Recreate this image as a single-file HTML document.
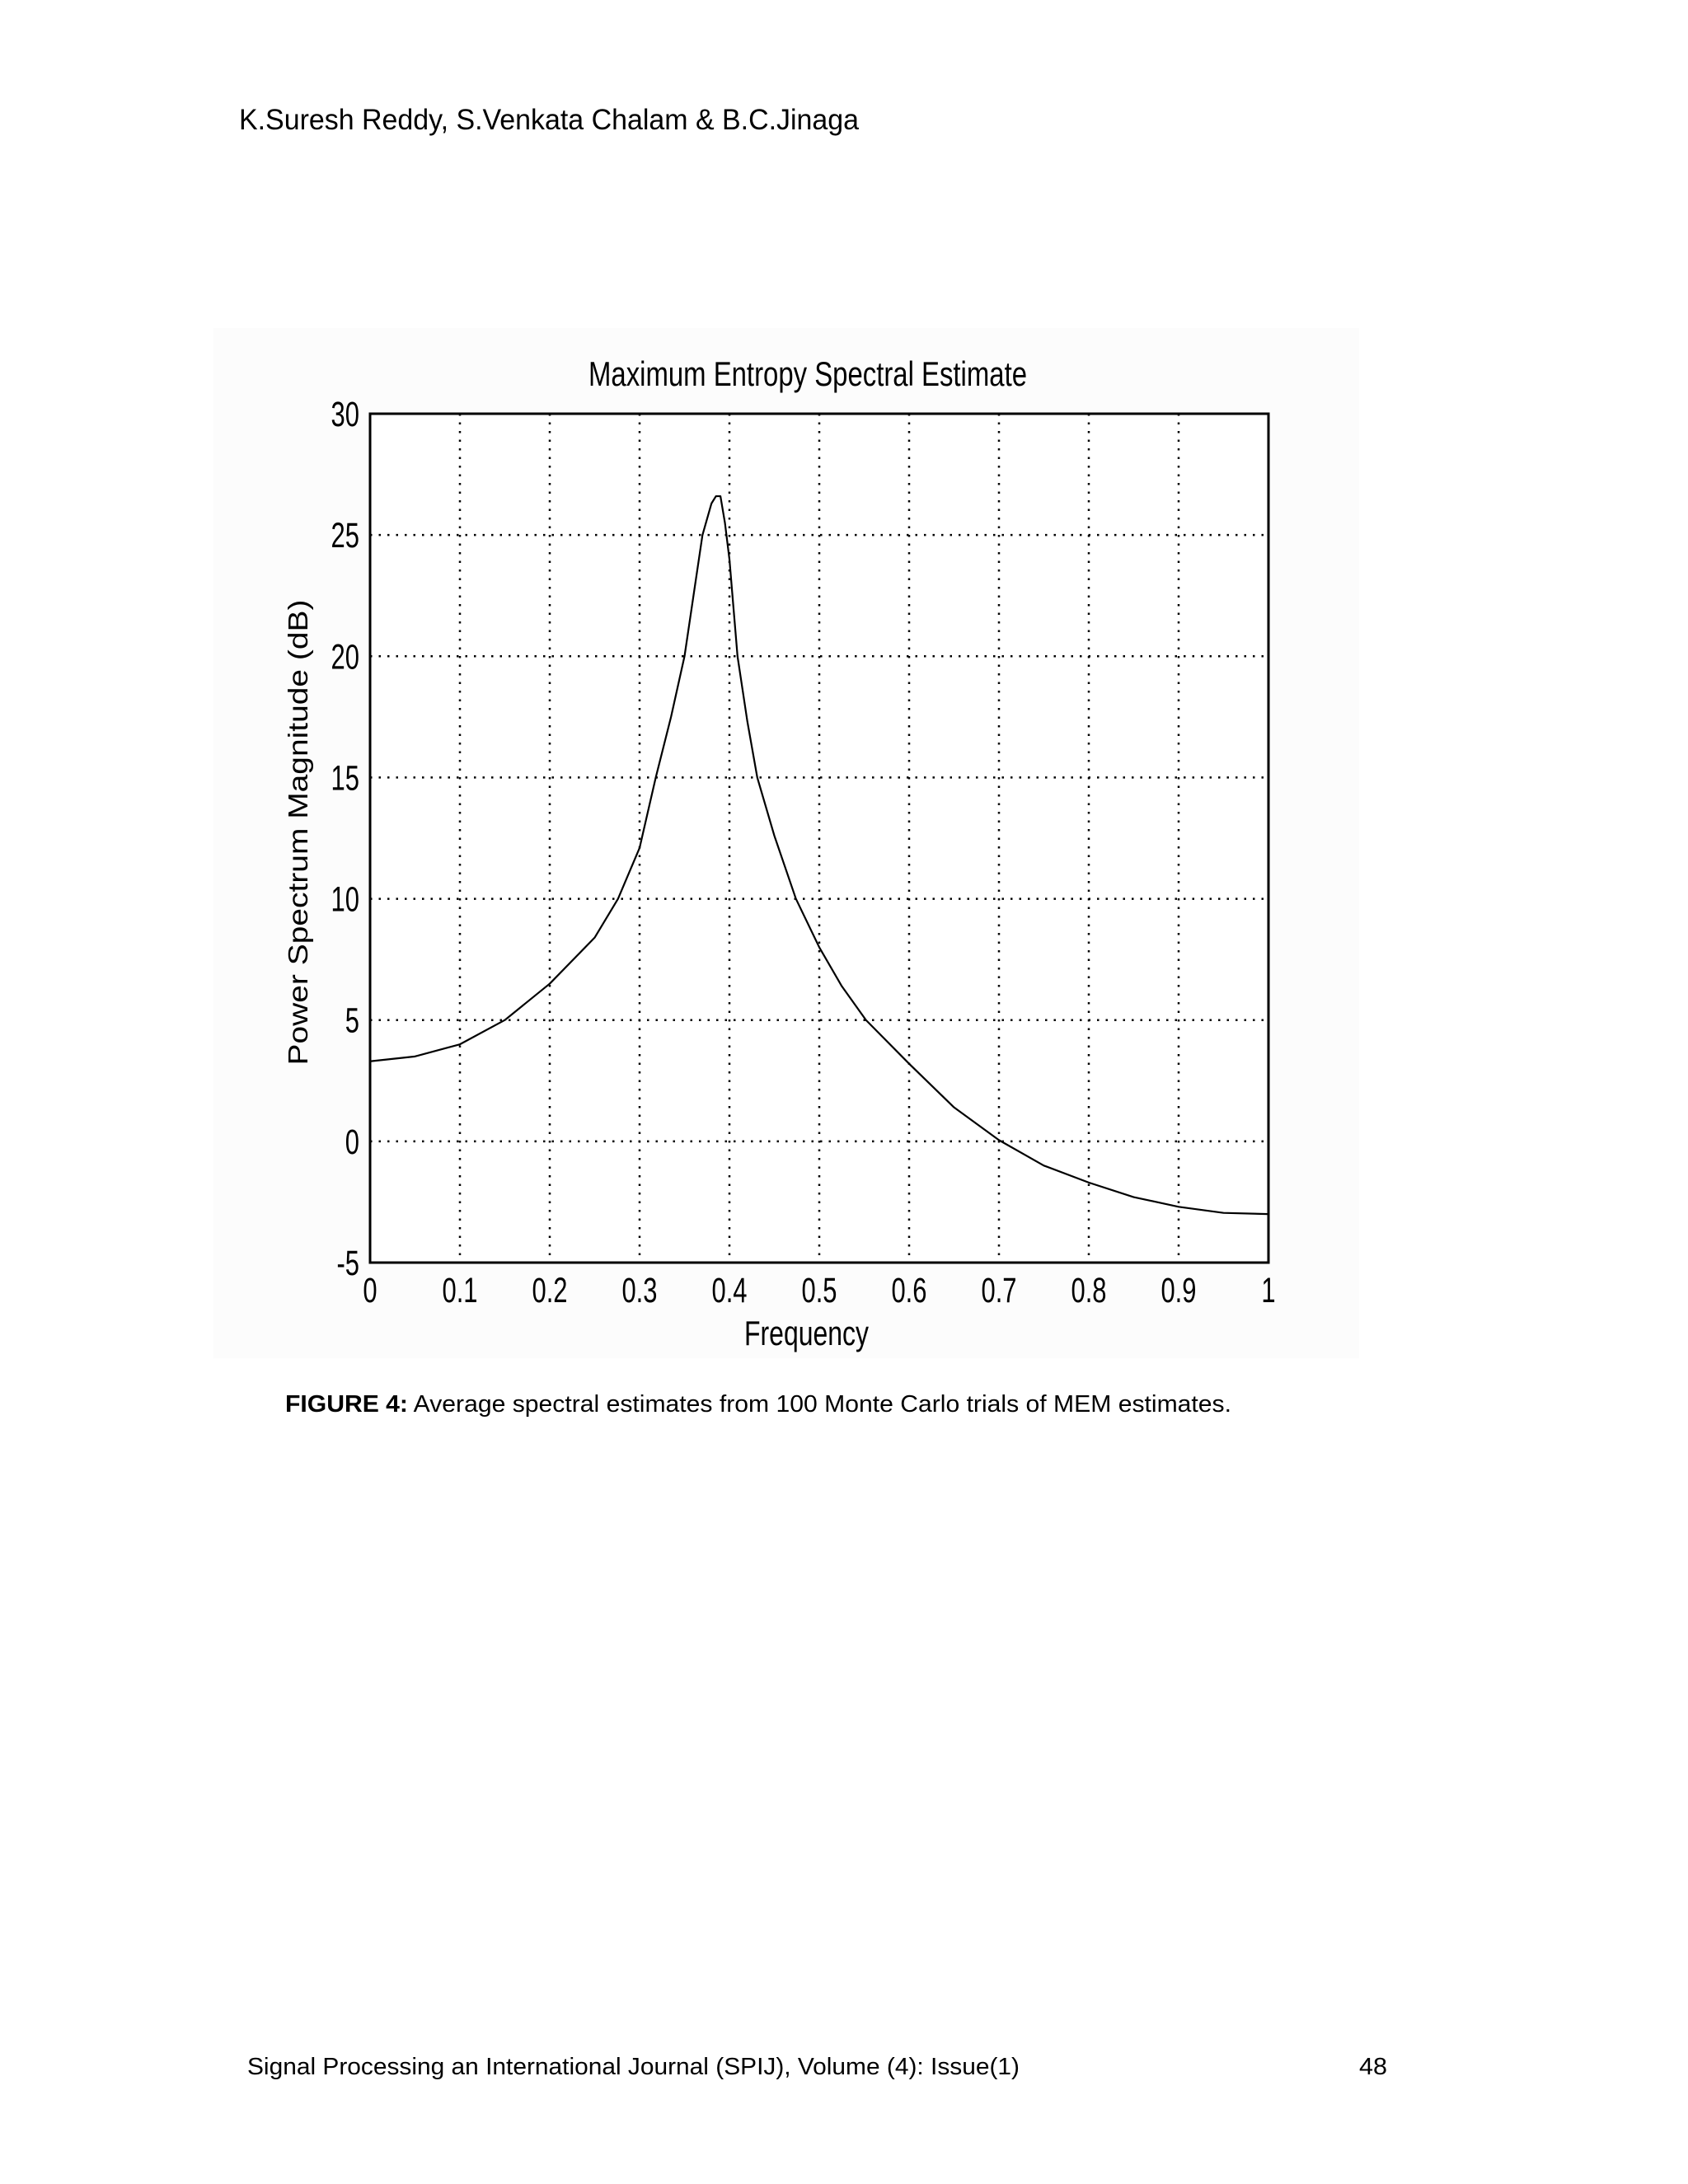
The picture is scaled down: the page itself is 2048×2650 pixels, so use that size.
<!DOCTYPE html>
<html><head><meta charset="utf-8"><style>
html,body{margin:0;padding:0;background:#fff;}
svg{display:block;}
text{font-family:"Liberation Sans",sans-serif;fill:#000;}
</style></head><body>
<svg width="2048" height="2650" viewBox="0 0 2048 2650">
<text x="290" y="157" font-size="35" textLength="752" lengthAdjust="spacingAndGlyphs">K.Suresh Reddy, S.Venkata Chalam &amp; B.C.Jinaga</text>
<rect x="259" y="398" width="1390" height="1250" fill="#fcfcfc"/>
<g id="chart"></g>
<text x="346" y="1713" font-size="29" textLength="1148" lengthAdjust="spacingAndGlyphs"><tspan font-weight="bold">FIGURE 4:</tspan> Average spectral estimates from 100 Monte Carlo trials of MEM estimates.</text>
<text x="300" y="2517" font-size="29" textLength="937" lengthAdjust="spacingAndGlyphs">Signal Processing an International Journal (SPIJ), Volume (4): Issue(1)</text>
<text x="1649" y="2517" font-size="29" textLength="34" lengthAdjust="spacingAndGlyphs">48</text>
</svg>
<script>
const freqs=[0,0.05,0.1,0.15,0.2,0.25,0.276,0.3,0.318,0.335,0.35,0.36,0.37,0.38,0.385,0.39,0.395,0.40,0.409,0.42,0.431,0.45,0.474,0.5,0.525,0.552,0.6,0.65,0.7,0.75,0.8,0.85,0.9,0.95,1.0];
const power=[3.3,3.5,4.0,5.0,6.5,8.4,10,12.1,15,17.5,20,22.5,25,26.3,26.6,26.6,25.5,24,20,17.3,15,12.6,10,8.0,6.4,5,3.2,1.4,0.05,-1.0,-1.7,-2.3,-2.7,-2.95,-3.0];
const xTicks=[0,0.1,0.2,0.3,0.4,0.5,0.6,0.7,0.8,0.9,1];
const xTickLabels=["0","0.1","0.2","0.3","0.4","0.5","0.6","0.7","0.8","0.9","1"];
const yTicks=[-5,0,5,10,15,20,25,30];
const yTickLabels=["-5","0","5","10","15","20","25","30"];
const L=449,R=1539,T=502,B=1532,NS="http://www.w3.org/2000/svg";
const xs=v=>L+(v-0)/(1-0)*(R-L);
const ys=v=>B-(v+5)/35*(B-T);
const g=document.getElementById('chart');
function mk(tag,attrs){const e=document.createElementNS(NS,tag);for(const k in attrs)e.setAttribute(k,attrs[k]);g.appendChild(e);return e;}
let e=mk('rect',{x:L,y:T,width:R-L,height:B-T,fill:'#fff'});


xTicks.forEach((v,i)=>{
 if(i>0&&i<xTicks.length-1){const l=mk('line',{x1:xs(v),x2:xs(v),y1:T,y2:B,stroke:'#000','stroke-width':2.5,'stroke-dasharray':'2.5 8'});
 
 }
 const t=mk('text',{x:xs(v),y:1580,'font-size':43,'text-anchor':'middle',transform:`translate(${xs(v)},0) scale(0.72,1) translate(${-xs(v)},0)`});
 t.textContent=xTickLabels[i];
 
 
});
yTicks.forEach((v,i)=>{
 if(i>0&&i<yTicks.length-1){const l=mk('line',{x1:L,x2:R,y1:ys(v),y2:ys(v),stroke:'#000','stroke-width':2.5,'stroke-dasharray':'2.5 8'});
 
 }
 const t=mk('text',{x:436,y:ys(v)+15,'font-size':43,'text-anchor':'end',transform:`translate(436,0) scale(0.72,1) translate(-436,0)`});
 t.textContent=yTickLabels[i];
 
 
});
e=mk('rect',{x:L,y:T,width:R-L,height:B-T,fill:'none',stroke:'#000','stroke-width':3});


e=mk('polyline',{points:freqs.map((f,i)=>xs(f)+','+ys(power[i])).join(' '),fill:'none',stroke:'#000','stroke-width':2.2,'stroke-linejoin':'round'});


e=mk('text',{x:714,y:468,'font-size':42,textLength:532,lengthAdjust:'spacingAndGlyphs'});
e.textContent='Maximum Entropy Spectral Estimate';


e=mk('text',{x:903,y:1632,'font-size':42,textLength:151,lengthAdjust:'spacingAndGlyphs'});
e.textContent='Frequency';


e=mk('text',{x:0,y:0,'font-size':33,'text-anchor':'middle',transform:'translate(373,1010) rotate(-90)',textLength:565,lengthAdjust:'spacingAndGlyphs'});
e.textContent='Power Spectrum Magnitude (dB)';


</script>
</body></html>
